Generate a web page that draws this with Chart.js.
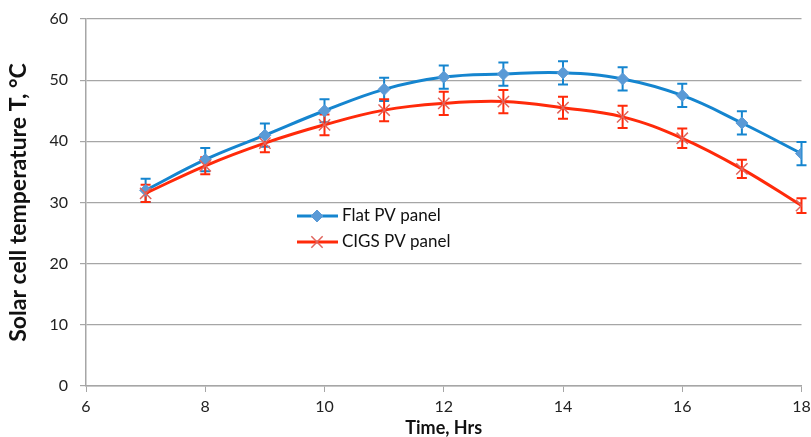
<!DOCTYPE html>
<html lang="en">
<head>
<meta charset="UTF-8">
<title>Solar cell temperature</title>
<script src="https://cdn.jsdelivr.net/npm/chart.js"></script>
<style>
  body { margin: 0; background: #fff; }
  #wrap { width: 811px; height: 437px; }
</style>
</head>
<body>
<div id="wrap">
  <canvas id="myChart" width="811" height="437"></canvas>
</div>
<script>
  // data
  const hours = [7, 8, 9, 10, 11, 12, 13, 14, 15, 16, 17, 18];
  const flatTemp = [32, 37, 41, 45, 48.5, 50.5, 51, 51.2, 50.2, 47.5, 43, 38];
  const flatErr = [1.9, 1.9, 1.9, 1.9, 1.9, 1.9, 1.9, 1.9, 1.9, 1.9, 1.9, 1.9];
  const cigsTemp = [31.5, 36, 39.7, 42.7, 45.1, 46.2, 46.5, 45.5, 44, 40.5, 35.5, 29.5];
  const cigsErr = [1.4, 1.4, 1.5, 1.7, 1.8, 1.9, 1.9, 1.8, 1.8, 1.6, 1.5, 1.2];
  const xTicks = [6, 8, 10, 12, 14, 16, 18];
  const yTicks = [0, 10, 20, 30, 40, 50, 60];

  const FONT = 'Lato, "Open Sans", sans-serif';
  const blue = '#1585CF';
  const red = '#FF2A0A';

  function pts(ys) {
    return hours.map((h, i) => ({ x: h, y: ys[i] }));
  }

  // error bars, drawn through the scales
  const errorBars = {
    id: 'errorBars',
    beforeDatasetsDraw(chart) {
      const ctx = chart.ctx;
      const xs = chart.scales.x, ys = chart.scales.y;
      chart.data.datasets.forEach(ds => {
        ctx.save();
        ctx.strokeStyle = ds.borderColor;
        ctx.lineWidth = 2;
        ds.data.forEach((p, i) => {
          const e = ds.errors[i];
          const px = xs.getPixelForValue(p.x);
          const top = ys.getPixelForValue(p.y + e);
          const bot = ys.getPixelForValue(p.y - e);
          ctx.beginPath();
          ctx.moveTo(px, top); ctx.lineTo(px, bot);
          ctx.moveTo(px - 5, top); ctx.lineTo(px + 5, top);
          ctx.moveTo(px - 5, bot); ctx.lineTo(px + 5, bot);
          ctx.stroke();
        });
        ctx.restore();
      });
    }
  };

  // legend inside the plot area
  const innerLegend = {
    id: 'innerLegend',
    afterDraw(chart) {
      const ctx = chart.ctx;
      const rows = [216, 242];
      chart.data.datasets.forEach((ds, i) => {
        const y = rows[i];
        ctx.save();
        ctx.strokeStyle = ds.borderColor;
        ctx.lineWidth = 3;
        ctx.beginPath();
        ctx.moveTo(297, y); ctx.lineTo(338, y);
        ctx.stroke();
        ctx.fillStyle = ds.pointBackgroundColor;
        ctx.strokeStyle = ds.pointBorderColor;
        ctx.lineWidth = ds.pointBorderWidth;
        Chart.helpers.drawPoint(ctx, {
          pointStyle: ds.pointStyle,
          radius: ds.pointRadius,
          borderWidth: ds.pointBorderWidth,
          rotation: 0
        }, 317, y);
        ctx.fillStyle = '#111';
        ctx.font = '17px ' + FONT;
        ctx.textBaseline = 'middle';
        ctx.fillText(ds.label, 342, y);
        ctx.restore();
      });
    }
  };

  const ctx = document.getElementById('myChart');
  new Chart(ctx, {
    type: 'line',
    data: {
      datasets: [{
        label: 'Flat PV panel',
        data: pts(flatTemp),
        errors: flatErr,
        borderColor: blue,
        borderWidth: 3,
        tension: 0.4,
        pointStyle: 'rectRot',
        pointRadius: 6,
        pointBackgroundColor: '#5A9AD6',
        pointBorderColor: '#5A9AD6',
        pointBorderWidth: 1,
        order: 1
      }, {
        label: 'CIGS PV panel',
        data: pts(cigsTemp),
        errors: cigsErr,
        borderColor: red,
        borderWidth: 3,
        tension: 0.4,
        pointStyle: 'crossRot',
        pointRadius: 8,
        pointBackgroundColor: '#E0645C',
        pointBorderColor: '#E0645C',
        pointBorderWidth: 1.5,
        order: 0
      }]
    },
    options: {
      responsive: false,
      animation: false,
      layout: { padding: { left: 5, right: 9, top: 19, bottom: 0 } },
      plugins: {
        legend: { display: false },
        tooltip: { enabled: false }
      },
      scales: {
        x: {
          type: 'linear',
          min: 6, max: 18,
          afterBuildTicks(scale) { scale.ticks = xTicks.map(v => ({ value: v })); },
          afterFit(scale) { scale.height = 51; scale.paddingLeft = 0; scale.paddingRight = 0; },
          grid: { drawOnChartArea: false, drawTicks: true, tickLength: 6, color: '#A6A6A6' },
          border: { color: '#A6A6A6', width: 1.5 },
          ticks: { color: '#222', font: { family: FONT, size: 16 }, padding: 5, maxRotation: 0 },
          title: { display: true, text: 'Time, Hrs', color: '#111', font: { family: FONT, size: 18, weight: 'bold', lineHeight: 1 }, padding: { top: -4, bottom: 0 } }
        },
        y: {
          min: 0, max: 60,
          afterBuildTicks(scale) { scale.ticks = yTicks.map(v => ({ value: v })); },
          afterFit(scale) { scale.width = 81; scale.paddingTop = 0; scale.paddingBottom = 0; },
          grid: { color: '#A6A6A6', lineWidth: 1.2, tickLength: 6 },
          border: { color: '#A6A6A6', width: 1.5 },
          ticks: { color: '#222', font: { family: FONT, size: 16 }, padding: 12 },
          title: { display: true, text: 'Solar cell temperature T, °C', color: '#111', font: { family: FONT, size: 23, weight: 'bold' }, padding: { top: 0, bottom: 8 } }
        }
      }
    },
    plugins: [errorBars, innerLegend]
  });
</script>
</body>
</html>
